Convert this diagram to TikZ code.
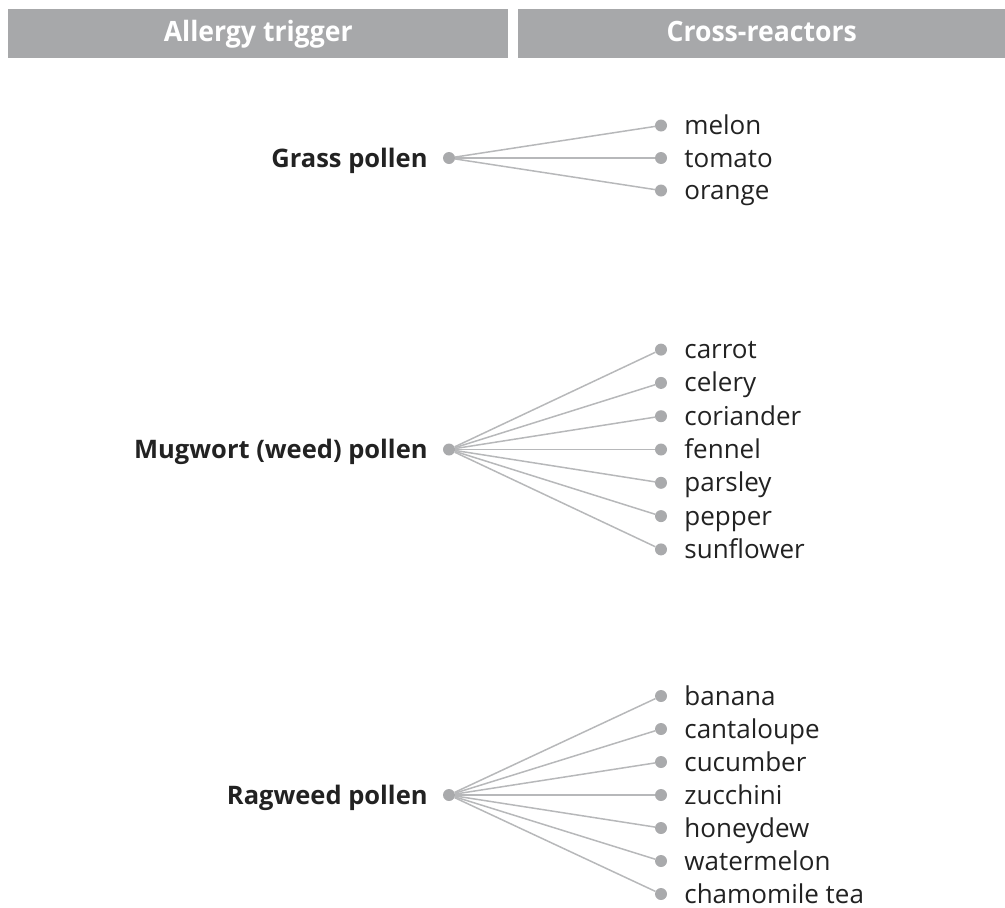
\documentclass[tikz,border=0pt]{standalone}
\usepackage{fontspec}
\usetikzlibrary{positioning}
\setmainfont{Open Sans}
\newfontfamily\headfont{Open Sans}[FakeStretch=0.95]
\definecolor{bargray}{HTML}{A7A8AA}
\definecolor{dotgray}{HTML}{A9AAAC}
\definecolor{linegray}{HTML}{B7B8BA}
\definecolor{inkdark}{HTML}{222222}
\tikzset{
  headbar/.style={fill=bargray,draw=none,anchor=north west,minimum height=49pt,
    inner sep=0pt,text=white,text height=15pt,text depth=0pt,
    font=\headfont\bfseries\fontsize{28}{31}\selectfont},
  trigger dot/.style={circle,fill=dotgray,inner sep=0pt,minimum size=12pt},
  item dot/.style={circle,fill=dotgray,inner sep=0pt,minimum size=12pt},
  trigger/.style={inner sep=0pt,text=inkdark,text height=18pt,text depth=0pt,
    font=\bfseries\fontsize{25.5}{29}\selectfont},
  item/.style={inner sep=0pt,text=inkdark,text height=18pt,text depth=0pt,
    font=\fontsize{26}{30}\selectfont},
  link/.style={draw=linegray,line width=1.5pt}
}

\begin{document}
\begin{tikzpicture}[x=1pt,y=-1pt]
  \useasboundingbox (0,0) rectangle (1005,908);
  % header
  \node[headbar,minimum width=500pt] (trigbar) at (8,9) {Allergy trigger};
  \node[headbar,minimum width=487pt] (crossbar) at (518,9) {Cross-reactors};

  % grass pollen
  \node[trigger dot] (grass) at (449,158) {};
  \node[trigger,left=15pt of grass] (grasslabel) {Grass pollen};
  \foreach \food [count=\i] in {melon,tomato,orange} {
    \node[item dot] (grass\i) at (661,{158+(\i-2)*32.5}) {};
    \node[item,right=17pt of grass\i] (grassfood\i) {\food};
    \draw[link] (grass) -- (grass\i);
  }

  % mugwort pollen
  \node[trigger dot] (mugwort) at (449,449.5) {};
  \node[trigger,left=15pt of mugwort] (mugwortlabel) {Mugwort (weed) pollen};
  \foreach \food [count=\i] in {carrot,celery,coriander,fennel,parsley,pepper,sunflower} {
    \node[item dot] (mugwort\i) at (661,{449.5+(\i-4)*33.3}) {};
    \node[item,right=17pt of mugwort\i] (mugwortfood\i) {\food};
    \draw[link] (mugwort) -- (mugwort\i);
  }

  % ragweed pollen
  \node[trigger dot] (ragweed) at (449,795) {};
  \node[trigger,left=15pt of ragweed] (ragweedlabel) {Ragweed pollen};
  \foreach \food [count=\i] in {banana,cantaloupe,cucumber,zucchini,honeydew,watermelon,chamomile tea} {
    \node[item dot] (ragweed\i) at (661,{795+(\i-4)*33}) {};
    \node[item,right=17pt of ragweed\i] (ragweedfood\i) {\food};
    \draw[link] (ragweed) -- (ragweed\i);
  }
\end{tikzpicture}
\end{document}
